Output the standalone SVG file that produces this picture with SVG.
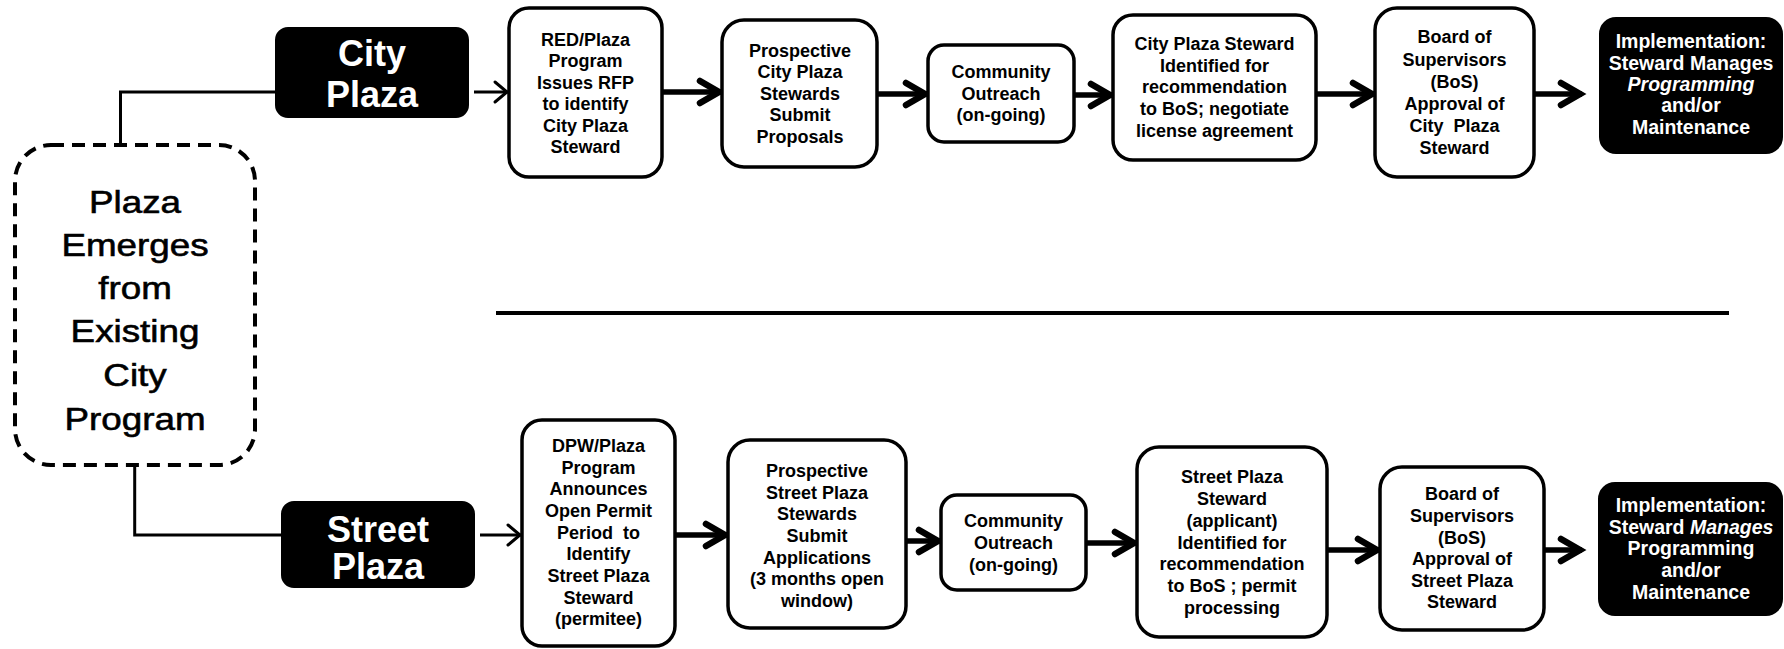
<svg xmlns="http://www.w3.org/2000/svg" width="1784" height="649" viewBox="0 0 1784 649">
<style>
.box{fill:#fff;stroke:#000;stroke-width:3.5}
.blk{fill:#000;stroke:#000;stroke-width:2}
.t{font-family:"Liberation Sans",Arial,sans-serif;font-weight:bold;font-size:18px;text-anchor:middle;fill:#000}
.tw{font-family:"Liberation Sans",Arial,sans-serif;font-weight:bold;font-size:19.5px;text-anchor:middle;fill:#fff}
.big{font-family:"Liberation Sans",Arial,sans-serif;font-weight:bold;font-size:36px;text-anchor:middle;fill:#fff}
.dt{font-family:"Liberation Sans",Arial,sans-serif;font-size:32px;text-anchor:middle;fill:#000;stroke:#000;stroke-width:0.6}
.thick{fill:none;stroke:#000;stroke-width:5.5;marker-end:url(#ahThick)}
.thin{fill:none;stroke:#000;stroke-width:3;marker-end:url(#ahThin)}
.ln{fill:none;stroke:#000;stroke-width:3}
</style>
<defs>
<marker id="ahThick" markerUnits="userSpaceOnUse" markerWidth="40" markerHeight="40" viewBox="-30 -20 40 40" refX="0" refY="0" orient="auto">
<polyline points="-21,-11 -2,0 -21,11" fill="none" stroke="#000" stroke-width="6.5" stroke-linecap="round" stroke-linejoin="miter"/>
</marker>
<marker id="ahThin" markerUnits="userSpaceOnUse" markerWidth="40" markerHeight="40" viewBox="-30 -20 40 40" refX="0" refY="0" orient="auto">
<polyline points="-13,-10 -1,0 -13,10" fill="none" stroke="#000" stroke-width="3" stroke-linecap="round"/>
</marker>
</defs>
<rect width="1784" height="649" fill="#fff"/>

<g id="connectors">
<path class="ln" d="M120.5,145 V92 H277"/>
<path class="ln" d="M134.7,465 V535 H283"/>
<line x1="496" y1="313" x2="1729" y2="313" stroke="#000" stroke-width="4"/>
<line class="thin" x1="474" y1="92" x2="508" y2="92"/>
<line class="thick" x1="662" y1="92" x2="721" y2="92"/>
<line class="thick" x1="878" y1="94" x2="927" y2="94"/>
<line class="thick" x1="1074" y1="95" x2="1112" y2="95"/>
<line class="thick" x1="1316" y1="94" x2="1374" y2="94"/>
<line class="thick" x1="1534" y1="94" x2="1582" y2="94"/>
<line class="thin" x1="480" y1="535" x2="521" y2="535"/>
<line class="thick" x1="675" y1="535" x2="727" y2="535"/>
<line class="thick" x1="906" y1="541" x2="940" y2="541"/>
<line class="thick" x1="1086" y1="543" x2="1136" y2="543"/>
<line class="thick" x1="1327" y1="550" x2="1379" y2="550"/>
<line class="thick" x1="1544" y1="550" x2="1582" y2="550"/>
</g>

<g id="origin">
<rect x="15" y="145" width="240" height="320" rx="36" fill="#fff" stroke="#000" stroke-width="4" stroke-dasharray="13 8"/>
<g transform="translate(135,0) scale(1.15,1)">
<text class="dt" x="0" y="213">Plaza</text>
<text class="dt" x="0" y="256">Emerges</text>
<text class="dt" x="0" y="299">from</text>
<text class="dt" x="0" y="342">Existing</text>
<text class="dt" x="0" y="386">City</text>
<text class="dt" x="0" y="430">Program</text>
</g>
</g>

<g id="city-plaza">
<rect class="blk" x="276" y="28" width="192" height="89" rx="12"/>
<text class="big" x="372" y="66">City</text>
<text class="big" x="372" y="107">Plaza</text>
</g>

<g id="red-rfp">
<rect class="box" x="509" y="8" width="153" height="169" rx="20"/>
<text class="t" x="585.5" y="46">RED/Plaza</text>
<text class="t" x="585.5" y="67">Program</text>
<text class="t" x="585.5" y="88.5">Issues RFP</text>
<text class="t" x="585.5" y="110">to identify</text>
<text class="t" x="585.5" y="131.5">City Plaza</text>
<text class="t" x="585.5" y="153">Steward</text>
</g>

<g id="city-proposals">
<rect class="box" x="722" y="20" width="155" height="147" rx="22"/>
<text class="t" x="800" y="57">Prospective</text>
<text class="t" x="800" y="78">City Plaza</text>
<text class="t" x="800" y="99.5">Stewards</text>
<text class="t" x="800" y="121">Submit</text>
<text class="t" x="800" y="143">Proposals</text>
</g>

<g id="city-outreach">
<rect class="box" x="928" y="45" width="146" height="97" rx="16"/>
<text class="t" x="1001" y="78">Community</text>
<text class="t" x="1001" y="99.5">Outreach</text>
<text class="t" x="1001" y="121">(on-going)</text>
</g>

<g id="city-identified">
<rect class="box" x="1113" y="15" width="203" height="145" rx="20"/>
<text class="t" x="1214.5" y="50">City Plaza Steward</text>
<text class="t" x="1214.5" y="72">Identified for</text>
<text class="t" x="1214.5" y="93">recommendation</text>
<text class="t" x="1214.5" y="115">to BoS; negotiate</text>
<text class="t" x="1214.5" y="137">license agreement</text>
</g>

<g id="city-bos">
<rect class="box" x="1375" y="8" width="159" height="169" rx="22"/>
<text class="t" x="1454.5" y="43">Board of</text>
<text class="t" x="1454.5" y="66">Supervisors</text>
<text class="t" x="1454.5" y="88">(BoS)</text>
<text class="t" x="1454.5" y="110">Approval of</text>
<text class="t" x="1454.5" y="132" xml:space="preserve">City  Plaza</text>
<text class="t" x="1454.5" y="154">Steward</text>
</g>

<g id="city-implementation">
<rect class="blk" x="1600" y="18" width="182" height="135" rx="16"/>
<text class="tw" x="1691" y="48">Implementation:</text>
<text class="tw" x="1691" y="69.5">Steward Manages</text>
<text class="tw" x="1691" y="91" font-style="italic">Programming</text>
<text class="tw" x="1691" y="112">and/or</text>
<text class="tw" x="1691" y="133.5">Maintenance</text>
</g>

<g id="street-plaza">
<rect class="blk" x="282" y="502" width="192" height="85" rx="12"/>
<text class="big" x="378" y="542">Street</text>
<text class="big" x="378" y="579">Plaza</text>
</g>

<g id="dpw-permit">
<rect class="box" x="522" y="420" width="153" height="226" rx="20"/>
<text class="t" x="598.5" y="452">DPW/Plaza</text>
<text class="t" x="598.5" y="473.5">Program</text>
<text class="t" x="598.5" y="495">Announces</text>
<text class="t" x="598.5" y="517">Open Permit</text>
<text class="t" x="598.5" y="538.5" xml:space="preserve">Period  to</text>
<text class="t" x="598.5" y="560">Identify</text>
<text class="t" x="598.5" y="582">Street Plaza</text>
<text class="t" x="598.5" y="603.5">Steward</text>
<text class="t" x="598.5" y="625">(permitee)</text>
</g>

<g id="street-applications">
<rect class="box" x="728" y="440" width="178" height="188" rx="22"/>
<text class="t" x="817" y="477">Prospective</text>
<text class="t" x="817" y="498.5">Street Plaza</text>
<text class="t" x="817" y="520">Stewards</text>
<text class="t" x="817" y="542">Submit</text>
<text class="t" x="817" y="563.5">Applications</text>
<text class="t" x="817" y="585">(3 months open</text>
<text class="t" x="817" y="606.5">window)</text>
</g>

<g id="street-outreach">
<rect class="box" x="941" y="495" width="145" height="95" rx="16"/>
<text class="t" x="1013.5" y="527">Community</text>
<text class="t" x="1013.5" y="548.5">Outreach</text>
<text class="t" x="1013.5" y="570.5">(on-going)</text>
</g>

<g id="street-identified">
<rect class="box" x="1137" y="447" width="190" height="190" rx="22"/>
<text class="t" x="1232" y="483">Street Plaza</text>
<text class="t" x="1232" y="505">Steward</text>
<text class="t" x="1232" y="527">(applicant)</text>
<text class="t" x="1232" y="548.5">Identified for</text>
<text class="t" x="1232" y="570">recommendation</text>
<text class="t" x="1232" y="592">to BoS ; permit</text>
<text class="t" x="1232" y="613.5">processing</text>
</g>

<g id="street-bos">
<rect class="box" x="1380" y="467" width="164" height="163" rx="22"/>
<text class="t" x="1462" y="500">Board of</text>
<text class="t" x="1462" y="522">Supervisors</text>
<text class="t" x="1462" y="543.5">(BoS)</text>
<text class="t" x="1462" y="565">Approval of</text>
<text class="t" x="1462" y="587">Street Plaza</text>
<text class="t" x="1462" y="608">Steward</text>
</g>

<g id="street-implementation">
<rect class="blk" x="1599" y="483" width="183" height="132" rx="16"/>
<text class="tw" x="1691" y="512">Implementation:</text>
<text class="tw" x="1691" y="533.5">Steward <tspan font-style="italic">Manages</tspan></text>
<text class="tw" x="1691" y="555">Programming</text>
<text class="tw" x="1691" y="577">and/or</text>
<text class="tw" x="1691" y="598.5">Maintenance</text>
</g>
</svg>
